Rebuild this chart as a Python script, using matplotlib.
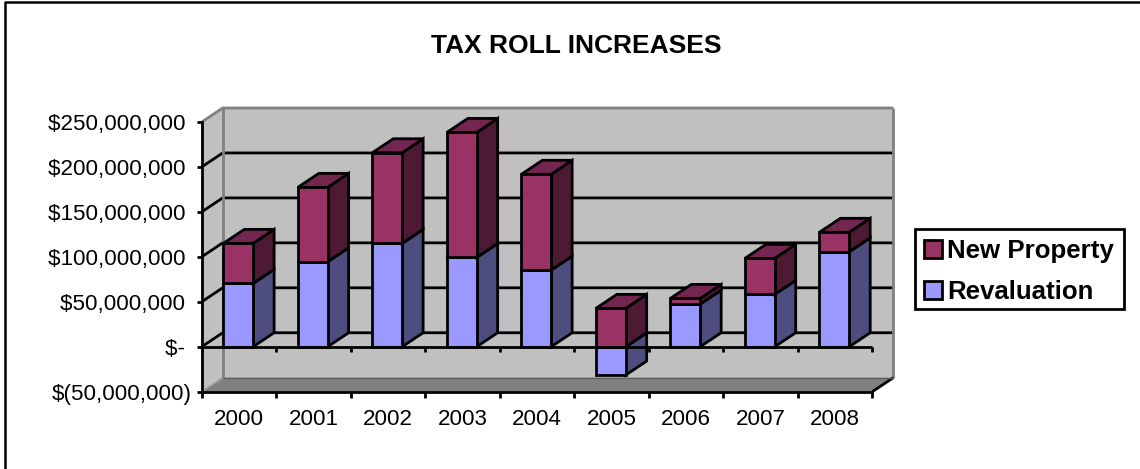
import matplotlib
matplotlib.use("Agg")
import matplotlib.pyplot as plt
from matplotlib.patches import Polygon, Patch, Rectangle
from matplotlib.ticker import FuncFormatter

plt.rcParams['font.family'] = ['Liberation Sans', 'DejaVu Sans']

years = ['2000', '2001', '2002', '2003', '2004', '2005', '2006', '2007', '2008']
revaluation = [70.5e6, 94.6e6, 115e6, 99.4e6, 85.3e6, -31.5e6, 47.5e6, 58.3e6, 105.7e6]
new_property = [44.5e6, 82.7e6, 100.8e6, 139e6, 106.5e6, 42.7e6, 6.3e6, 40e6, 21.6e6]
y_ticks = [-50e6, 0, 50e6, 100e6, 150e6, 200e6, 250e6]

W, H = 1140, 469
AX_L, AX_R, AX_T, AX_B = 201.7, 872.3, 122.0, 391.7
DEPTH_PX = (21.0, 14.0)
BAR_WIDTH = 0.40
BAR_CENTER = 0.49
LW = 2.0

RED = dict(front='#993366', top='#732650', side='#4D1933')
BLUE = dict(front='#9999FF', top='#7373BF', side='#4D4D80')

fig = plt.figure(figsize=(W / 100, H / 100), dpi=100, facecolor='white')
ax = fig.add_axes([AX_L / W, 1 - AX_B / H, (AX_R - AX_L) / W, (AX_B - AX_T) / H])
ax.set_xlim(0, len(years))
ax.set_ylim(-50e6, 250e6)
ax.patch.set_visible(False)

# Oblique projection offset, in data units
ddx = DEPTH_PX[0] * len(years) / (AX_R - AX_L)
ddy = DEPTH_PX[1] * 300e6 / (AX_B - AX_T)
n = len(years)
ymin, ymax = -50e6, 250e6


def poly(pts, fc, ec='none', lw=0, z=1):
    ax.add_patch(Polygon(pts, closed=True, facecolor=fc, edgecolor=ec, linewidth=lw,
                         zorder=z, clip_on=False, joinstyle='miter'))


def line(xs, ys, color='black', lw=LW, z=2):
    ax.plot(xs, ys, color=color, lw=lw, zorder=z, clip_on=False, solid_capstyle='butt')


# Walls and floor of the 3-D box
poly([(ddx, ymin + ddy), (n + ddx, ymin + ddy), (n + ddx, ymax + ddy), (ddx, ymax + ddy)], '#C0C0C0')
poly([(0, ymin), (ddx, ymin + ddy), (ddx, ymax + ddy), (0, ymax)], '#C0C0C0')
poly([(0, ymin), (ddx, ymin + ddy), (n + ddx, ymin + ddy), (n, ymin)], '#808080')

# Gridlines run along the side wall and across the back wall
for v in y_ticks[1:-1]:
    line([0, ddx, n + ddx], [v, v + ddy, v + ddy])
gray = '#808080'
line([ddx, ddx], [ymin + ddy, ymax + ddy], gray, 2.0, 3)
line([n + ddx, n + ddx], [ymin + ddy, ymax + ddy], gray, 2.0, 3)
line([0, ddx, n + ddx], [ymax, ymax + ddy, ymax + ddy], gray, 2.0, 3)
line([0, ddx], [ymin, ymin + ddy], '#A0A0A0', 1.2, 3)
line([n, n + ddx], [ymin, ymin + ddy], 'black', LW, 3)
line([ddx, n + ddx], [ymin + ddy, ymin + ddy], '#606060', 1.0, 3)

# Short marks along the zero line at the category boundaries
ax.vlines(range(n + 1), -6e6, 0, color='black', lw=LW, zorder=2.5, clip_on=False)


def segment(i, low, high, pal, z):
    x0 = i + BAR_CENTER - BAR_WIDTH / 2
    x1 = x0 + BAR_WIDTH
    edge = dict(ec='black', lw=LW, z=z)
    poly([(x1, low), (x1 + ddx, low + ddy), (x1 + ddx, high + ddy), (x1, high)], pal['side'], **edge)
    poly([(x0, high), (x1, high), (x1 + ddx, high + ddy), (x0 + ddx, high + ddy)], pal['top'], **edge)
    poly([(x0, low), (x1, low), (x1, high), (x0, high)], pal['front'], **edge)


# Stacked bars: positive and negative values stack away from zero separately
for i, (rv, np_val) in enumerate(zip(revaluation, new_property)):
    z = 10 + i
    if rv >= 0:
        segment(i, 0, rv, BLUE, z)
        segment(i, rv, rv + np_val, RED, z + 0.5)
    else:
        segment(i, rv, 0, BLUE, z)
        segment(i, 0, np_val, RED, z + 0.5)

# Front edge of the zero plane sits over the bars
line([0, n], [0, 0], 'black', LW, 30)

# Axes
for name in ('top', 'right'):
    ax.spines[name].set_visible(False)
for name in ('left', 'bottom'):
    ax.spines[name].set_linewidth(LW)
    ax.spines[name].set_zorder(5)


def money(v, _):
    # The trailing space keeps the digits aligned with the bracketed negative value
    if v == 0:
        return '$- '
    if v < 0:
        return f'$({abs(v):,.0f})'
    return f'${v:,.0f} '


ax.set_yticks(y_ticks)
ax.yaxis.set_major_formatter(FuncFormatter(money))
ax.tick_params(axis='y', direction='out', length=3.6, width=LW, labelsize=16.1, pad=3.8)
ax.set_xticks(range(n + 1))
ax.set_xticklabels([])
ax.set_xticks([i + 0.5 for i in range(n)], minor=True)
ax.set_xticklabels(years, minor=True)
ax.tick_params(axis='x', which='major', direction='out', length=4.5, width=LW)
ax.tick_params(axis='x', which='minor', length=0, labelsize=16.1, pad=12.6)

fig.text(576 / W, 1 - 46 / H, 'TAX ROLL INCREASES', fontsize=19, fontweight='bold',
         ha='center', va='center')

# Legend box, with the entries placed inside it
fig.add_artist(Rectangle((915 / W, 1 - 309.3 / H), 208.5 / W, 80 / H, facecolor='white',
                         edgecolor='black', linewidth=LW, transform=fig.transFigure))
handles = [Patch(facecolor=RED['front'], edgecolor='black', linewidth=LW, label='New Property'),
           Patch(facecolor=BLUE['front'], edgecolor='black', linewidth=LW, label='Revaluation')]
leg = fig.legend(handles=handles, loc='upper left', bbox_to_anchor=(914 / W, 1 - 229.3 / H),
                 bbox_transform=fig.transFigure, prop=dict(size=18.6, weight='bold'),
                 frameon=False, borderaxespad=0, borderpad=0.38, labelspacing=0.65,
                 handlelength=0.72, handleheight=0.72, handletextpad=0.18)

# Chart-area border along the left and top of the figure
fig.add_artist(plt.Line2D([5 / W, 5 / W, 1], [0, 1 - 2.5 / H, 1 - 2.5 / H],
                          color='black', lw=1.8, transform=fig.transFigure))

fig.savefig('out.png', dpi=100)
